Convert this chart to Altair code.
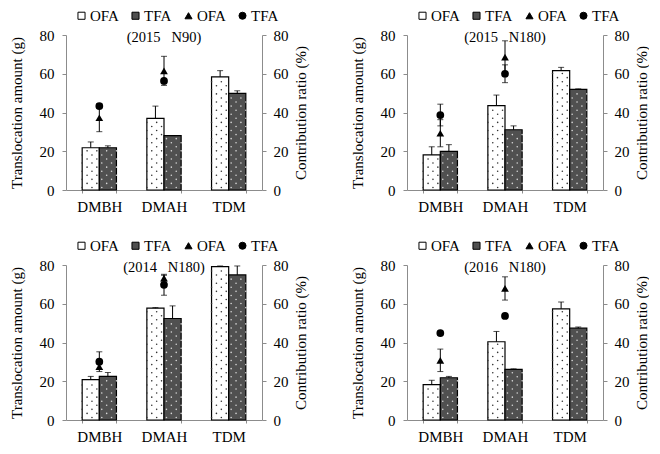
import altair as alt
import pandas as pd

categories = ["DMBH", "DMAH", "TDM"]
ratio_categories = ["DMBH", "DMAH"]
panel_labels = ["(2015\u00a0\u00a0\u00a0N90)", "(2015\u00a0\u00a0\u00a0N180)", "(2014\u00a0\u00a0\u00a0N180)", "(2016\u00a0\u00a0\u00a0N180)"]

# Translocation amount (g) -- bars
ofa_amount = [[21.8, 37.0, 58.4], [18.1, 43.5, 61.6], [20.8, 57.7, 79.2], [18.3, 40.4, 57.4]]
ofa_amount_err = [[3.0, 6.3, 3.2], [4.2, 5.5, 1.7], [1.7, 0.3, 0.3], [2.2, 5.3, 3.5]]
tfa_amount = [[21.8, 28.1, 49.9], [19.9, 31.1, 51.9], [22.5, 52.4, 74.9], [21.8, 26.1, 47.4]]
tfa_amount_err = [[1.0, 0.0, 1.3], [3.5, 2.0, 0.3], [2.0, 6.5, 4.6], [0.7, 0.3, 0.6]]

# Contribution ratio (%) -- points
ofa_ratio = [[37.3, 61.5], [29.3, 68.6], [27.6, 73.2], [30.8, 67.9]]
ofa_ratio_err = [[7.2, 7.5], [7.0, 8.4], [1.5, 1.5], [5.8, 6.0]]
tfa_ratio = [[43.3, 56.3], [38.7, 60.0], [30.1, 69.8], [44.9, 53.7]]
tfa_ratio_err = [[1.0, 1.0], [5.6, 4.6], [5.1, 5.4], [1.0, 1.0]]

keys = ["OFA_b", "TFA_b", "OFA_p", "TFA_p"]
key_fill = ["#ffffff", "#505050", "#000000", "#000000"]
key_shape = ["square", "square", "triangle-up", "circle"]
sub_bands = ["OFA_0", "OFA_1", "OFA_2", "OFA_3", "TFA_0", "TFA_1", "TFA_2", "TFA_3"]

FONT = "Times New Roman, Liberation Serif, serif"
W, H = 196, 155
DOT_STEP = 2.1  # spacing of the fill texture rows (axis units)


def texture_rows(category, series, top):
    """Dotted fill texture of one bar (decoration only)."""
    out = []
    k = 0
    while True:
        y = 1.3 + k * DOT_STEP
        if y > top - 1.0:
            break
        subs = (0, 2) if k % 2 == 0 else (1, 3)
        for s in subs:
            out.append(dict(category=category, sub=f"{series}_{s}", y=y))
        k += 1
    return out


def panel(i):
    rows = []
    ofa_tex, tfa_tex = [], []
    for j, c in enumerate(categories):
        rows.append(dict(category=c, series="OFA", key="OFA_b", value=ofa_amount[i][j],
                         upper=ofa_amount[i][j] + ofa_amount_err[i][j]))
        rows.append(dict(category=c, series="TFA", key="TFA_b", value=tfa_amount[i][j],
                         upper=tfa_amount[i][j] + tfa_amount_err[i][j]))
        ofa_tex += texture_rows(c, "OFA", ofa_amount[i][j])
        tfa_tex += texture_rows(c, "TFA", tfa_amount[i][j])
    bar_df = pd.DataFrame(rows)
    ofa_tex_df = pd.DataFrame(ofa_tex)
    tfa_tex_df = pd.DataFrame(tfa_tex)

    prow = []
    for j, c in enumerate(ratio_categories):
        prow.append(dict(category=c, series="OFA", key="OFA_p", value=ofa_ratio[i][j],
                         lower=ofa_ratio[i][j] - ofa_ratio_err[i][j],
                         upper=ofa_ratio[i][j] + ofa_ratio_err[i][j]))
        prow.append(dict(category=c, series="TFA", key="TFA_p", value=tfa_ratio[i][j],
                         lower=tfa_ratio[i][j] - tfa_ratio_err[i][j],
                         upper=tfa_ratio[i][j] + tfa_ratio_err[i][j]))
    pt_df = pd.DataFrame(prow)

    x_enc = alt.X("category:N", title=None,
                  scale=alt.Scale(domain=categories, paddingInner=0.47, paddingOuter=0.25),
                  axis=alt.Axis(labelAngle=0, tickBand="extent", tickSize=3, labelPadding=6,
                                labelFontSize=15))
    xo_enc = alt.XOffset("series:N", scale=alt.Scale(domain=["OFA", "TFA"], paddingInner=0, paddingOuter=0))
    xo_sub = alt.XOffset("sub:N", scale=alt.Scale(domain=sub_bands, paddingInner=0, paddingOuter=0))

    left_axis = alt.Axis(values=[0, 20, 40, 60, 80], title="Translocation amount (g)",
                         tickSize=4, labelPadding=8, titlePadding=15)
    right_axis = alt.Axis(values=[0, 20, 40, 60, 80], title="Contribution ratio (%)", orient="right",
                          tickSize=4, labelPadding=7, titlePadding=20, titleAngle=270)
    yscale = alt.Scale(domain=[0, 80], nice=False)

    fill_scale = alt.Scale(domain=keys, range=key_fill)
    shape_scale = alt.Scale(domain=keys, range=key_shape)
    legend = alt.Legend(title=None, orient="none", legendX=8, legendY=-27, direction="horizontal",
                        labelExpr="split(datum.label, '_')[0]", labelFontSize=15, labelFont=FONT,
                        symbolSize=50, symbolStrokeColor="black", symbolStrokeWidth=1,
                        labelOffset=1, columnPadding=9)

    bars = alt.Chart(bar_df).mark_bar(stroke="black", strokeWidth=1.2).encode(
        x=x_enc, xOffset=xo_enc,
        y=alt.Y("value:Q", scale=yscale, axis=left_axis),
        fill=alt.Fill("key:N", scale=fill_scale, legend=legend),
    )
    ofa_dots = alt.Chart(ofa_tex_df).mark_point(filled=True, size=2.5, color="#333333", opacity=1).encode(
        x=x_enc, xOffset=xo_sub,
        y=alt.Y("y:Q", scale=yscale, axis=left_axis),
    )
    tfa_dots = alt.Chart(tfa_tex_df).mark_point(filled=True, size=2.5, color="#d8d8d8", opacity=1).encode(
        x=x_enc, xOffset=xo_sub,
        y=alt.Y("y:Q", scale=yscale, axis=left_axis),
    )
    bar_err = alt.Chart(bar_df).mark_rule(color="black", strokeWidth=1).encode(
        x=x_enc, xOffset=xo_enc,
        y=alt.Y("value:Q", scale=yscale, axis=left_axis), y2="upper:Q",
    )
    bar_cap = alt.Chart(bar_df).mark_tick(color="black", thickness=1, size=6).encode(
        x=x_enc, xOffset=xo_enc,
        y=alt.Y("upper:Q", scale=yscale, axis=left_axis),
    )
    left = alt.layer(bars, ofa_dots, tfa_dots, bar_err, bar_cap).resolve_scale(xOffset="independent")

    p_err = alt.Chart(pt_df).mark_rule(color="black", strokeWidth=1).encode(
        x=x_enc,
        y=alt.Y("lower:Q", scale=yscale, axis=right_axis), y2="upper:Q",
    )
    p_cap_lo = alt.Chart(pt_df).mark_tick(color="black", thickness=1, size=6).encode(
        x=x_enc, y=alt.Y("lower:Q", scale=yscale, axis=right_axis),
    )
    p_cap_hi = alt.Chart(pt_df).mark_tick(color="black", thickness=1, size=6).encode(
        x=x_enc, y=alt.Y("upper:Q", scale=yscale, axis=right_axis),
    )
    pts = alt.Chart(pt_df).mark_point(filled=True, opacity=1, size=60).encode(
        x=x_enc,
        y=alt.Y("value:Q", scale=yscale, axis=right_axis),
        fill=alt.Fill("key:N", scale=fill_scale, legend=legend),
        shape=alt.Shape("key:N", scale=shape_scale, legend=legend),
    )
    right = alt.layer(p_err, p_cap_lo, p_cap_hi, pts)

    return alt.layer(left, right).resolve_scale(y="independent").properties(
        width=W, height=H,
        title=alt.TitleParams(panel_labels[i], fontSize=14.5, font=FONT, fontWeight="normal",
                              baseline="middle", offset=-44, anchor="middle", frame="group"),
    )


chart = alt.concat(
    panel(0), panel(1), panel(2), panel(3), columns=2,
    spacing={"row": 24, "column": 41},
).resolve_scale(fill="independent", shape="independent").properties(
    padding=0,
).configure_view(stroke=None).configure_axis(
    grid=False, domainColor="#8c8c8c", tickColor="#8c8c8c", labelColor="black",
    labelFont=FONT, titleFont=FONT, labelFontSize=15, titleFontSize=15,
    titleFontWeight="normal", titleColor="black", domainWidth=1,
)

chart.save("out.html", embed_options={"renderer": "svg", "actions": False})
